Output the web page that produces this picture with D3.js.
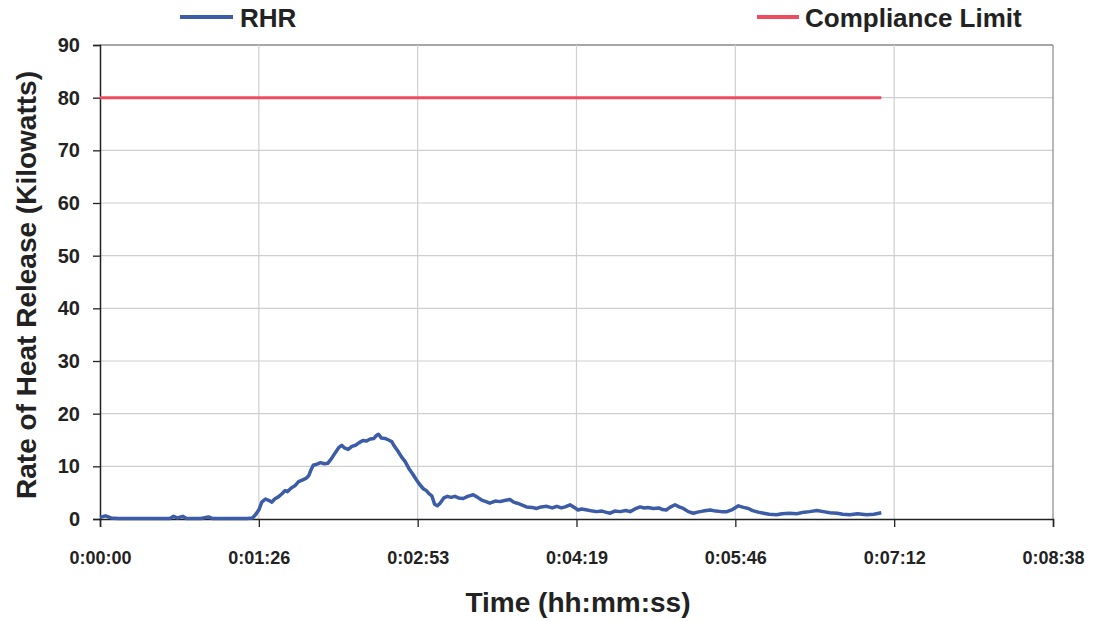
<!DOCTYPE html>
<html><head><meta charset="utf-8">
<script src="https://cdn.jsdelivr.net/npm/d3@7"></script>
<style>
body{margin:0;background:#fff;}
text{font-family:"Liberation Sans",Arial,sans-serif;font-weight:bold;fill:#222;}
</style></head>
<body><svg id="c" width="1098" height="621"></svg>
<script>
const rhrTimes = [0,3,6,10,20,30,38,40,42,45,47,55,59,61,70,80,83,85,86.5,88,90,92,93.5,95,97,99,100.7,102,104,106,108,110,112,113.5,115,116,118,120,122,124,126,128,130,131.5,133,135,137,139,141,143,145,147,149,150.5,151.5,153,155,157,158.7,160,162,164,166,168,170,172,174,176,177.5,179,180.5,182,183.5,185,187,189,191,193,195,197.6,200,203,205,207.6,210,212,215,217.6,220,223,225,227,230,232,235,237.5,240,243,246,248.5,251,253,255.7,258,260,262,265,268,270,273,275,277.5,280,283,286,288.4,291,293.8,296,298,301,304,306,308,310,312.8,315,317.3,320,322.8,325,328,331.9,335,338,341,344,347.3,350,352.7,355,358,361,364,368,371,375,379,383,386,390,393.5,397,401,404,408,412,417,421,425];
const rhrValues = [0.3,0.6,0.2,0.1,0.1,0.1,0.1,0.5,0.2,0.5,0.1,0.1,0.4,0.1,0.1,0.1,0.2,1.0,1.8,3.2,3.8,3.5,3.2,3.8,4.2,4.8,5.4,5.2,5.9,6.3,7.1,7.4,7.7,8.2,9.5,10.2,10.4,10.7,10.5,10.6,11.5,12.6,13.6,14.0,13.5,13.2,13.8,14.0,14.5,14.9,14.8,15.2,15.3,15.9,16.1,15.4,15.3,15.0,14.7,13.9,12.9,11.8,10.9,9.6,8.6,7.5,6.5,5.7,5.4,4.8,4.4,2.8,2.5,3.0,4.0,4.3,4.1,4.3,4.0,3.9,4.3,4.6,4.2,3.6,3.3,3.0,3.4,3.3,3.5,3.7,3.2,3.0,2.6,2.3,2.2,2.0,2.3,2.4,2.1,2.4,2.1,2.3,2.7,2.2,1.7,1.9,1.7,1.5,1.4,1.5,1.3,1.1,1.5,1.4,1.6,1.4,1.9,2.3,2.1,2.2,2.0,2.1,1.8,1.7,2.2,2.7,2.3,2.0,1.4,1.1,1.3,1.5,1.7,1.5,1.4,1.4,1.8,2.5,2.2,2.0,1.6,1.3,1.1,0.9,0.8,1.0,1.1,1.0,1.3,1.4,1.6,1.4,1.2,1.1,0.9,0.8,1.0,0.8,0.9,1.2];
const limitTimes = [0, 425];
const limitValues = [80, 80];
const xTickSeconds = [0, 86.4, 172.8, 259.2, 345.6, 432, 518.4];
const yTicks = [0,10,20,30,40,50,60,70,80,90];
const seriesNames = ["RHR", "Compliance Limit"];

const svg = d3.select("#c");
const L = 100, R = 1053, T = 45, B = 519;
const x = d3.scaleLinear().domain([0, 518.4]).range([L, R]);
const y = d3.scaleLinear().domain([0, 90]).range([B, T]);

function fmt(s){
  s = Math.round(s);
  const h = Math.floor(s/3600), m = Math.floor((s%3600)/60), ss = s%60;
  return h + ":" + String(m).padStart(2,"0") + ":" + String(ss).padStart(2,"0");
}

// grid
svg.append("g").selectAll("line").data(yTicks.slice(1)).join("line")
  .attr("x1", L).attr("x2", R).attr("y1", d=>y(d)).attr("y2", d=>y(d))
  .attr("stroke", d=> d===90 ? "#888" : "#cfcfcf").attr("stroke-width", d=> d===90?1.5:1.2);
svg.append("g").selectAll("line").data(xTickSeconds.slice(1)).join("line")
  .attr("x1", d=>x(d)).attr("x2", d=>x(d)).attr("y1", T).attr("y2", B)
  .attr("stroke", d=> d===518.4 ? "#888" : "#cfcfcf").attr("stroke-width", 1.2);

// axes
const yAxis = d3.axisLeft(y).tickValues(yTicks).tickSize(7).tickPadding(13).tickFormat(d3.format("d"));
const gy = svg.append("g").attr("transform", `translate(${L},0)`).call(yAxis);
gy.select(".domain").attr("stroke", "#222").attr("stroke-width", 1.5);
gy.selectAll(".tick line").attr("stroke", "#222").attr("stroke-width", 1.3);
gy.selectAll("text").style("font-size", "20px").style("font-family", "Liberation Sans, Arial, sans-serif").style("font-weight","bold").attr("fill", "#222");

const xAxis = d3.axisBottom(x).tickValues(xTickSeconds).tickSize(8).tickPadding(24).tickFormat(fmt);
const gx = svg.append("g").attr("transform", `translate(0,${B})`).call(xAxis);
gx.select(".domain").attr("stroke", "#222").attr("stroke-width", 1.5);
gx.selectAll(".tick line").attr("stroke", "#222").attr("stroke-width", 1.3);
gx.selectAll("text").style("font-size", "18px").style("font-family", "Liberation Sans, Arial, sans-serif").style("font-weight","bold").attr("fill", "#222");

// lines
const line = d3.line().x(d=>x(d[0])).y(d=>y(d[1]));
svg.append("path").datum(limitTimes.map((t,i)=>[t, limitValues[i]]))
  .attr("d", line).attr("fill","none").attr("stroke","#ee4d5f").attr("stroke-width",3);
svg.append("path").datum(rhrTimes.map((t,i)=>[t, rhrValues[i]]))
  .attr("d", line).attr("fill","none").attr("stroke","#3c5ca8").attr("stroke-width",3.5)
  .attr("stroke-linejoin","round");

// titles
svg.append("text").attr("x", 578).attr("y", 612).attr("text-anchor","middle")
  .style("font-size","28px").text("Time (hh:mm:ss)");
svg.append("text").attr("transform","translate(36,285) rotate(-90)").attr("text-anchor","middle")
  .style("font-size","28px").text("Rate of Heat Release (Kilowatts)");

// legend
const leg = [{name: seriesNames[0], color:"#3c5ca8", x1:180, x2:233, tx:240},
             {name: seriesNames[1], color:"#ee4d5f", x1:757, x2:799, tx:805}];
leg.forEach(l=>{
  svg.append("line").attr("x1",l.x1).attr("x2",l.x2).attr("y1",17).attr("y2",17)
    .attr("stroke",l.color).attr("stroke-width",4);
  svg.append("text").attr("x",l.tx).attr("y",27).style("font-size","26px").text(l.name);
});
</script></body></html>
